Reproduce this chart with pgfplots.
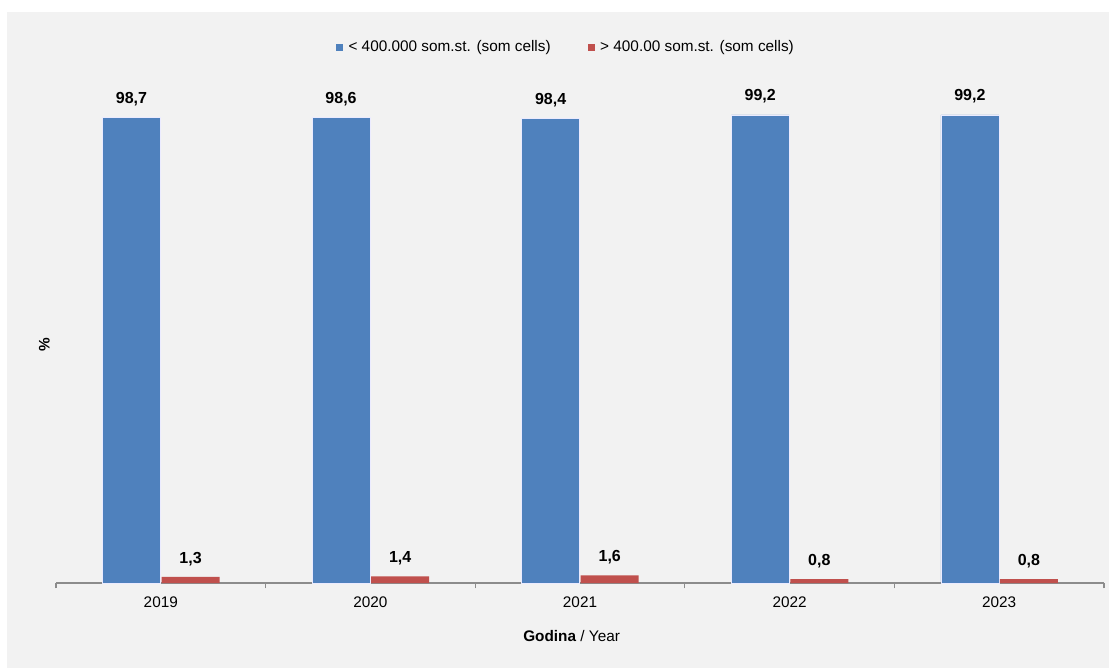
\documentclass[border=0pt]{standalone}
\usepackage{fontspec}
\setmainfont{Liberation Sans}
\usepackage{pgfplots}
\pgfplotsset{compat=1.18}
\definecolor{barblue}{HTML}{4F81BD}
\definecolor{barred}{HTML}{C0504D}
\definecolor{panel}{HTML}{F2F2F2}
\definecolor{axgray}{HTML}{8C8C8C}
\begin{document}
\begin{tikzpicture}[x=1pt,y=1pt]
\useasboundingbox (0,0) rectangle (831.75,501);
\fill[white] (0,0) rectangle (831.75,501);
\fill[panel] (5.25,0) rectangle (831.75,492);
\begin{axis}[
  at={(42pt,63.75pt)}, anchor=south west,
  scale only axis, width=786pt, height=371.7pt,
  xmin=-0.5, xmax=4.5, ymin=0, ymax=105,
  ybar, bar width=43.5pt,
  axis y line=none, axis x line=bottom,
  x axis line style={-, draw=axgray, line width=0.8pt},
  xtick={0,1,2,3,4},
  xticklabels={2019,2020,2021,2022,2023},
  major x tick style={draw=none},
  extra x ticks={-0.5,0.5,1.5,2.5,3.5,4.5},
  extra x tick labels={},
  extra x tick style={tick align=outside, major tick length=4pt, major x tick style={draw=axgray, line width=0.8pt}},
  xticklabel style={font=\fontsize{11.5}{13}\selectfont, yshift=-5pt},
  clip=false,
  xlabel={\textbf{Godina} / Year},
  xlabel style={at={(axis description cs:0.492,0)}, anchor=center, yshift=-39.75pt, font=\fontsize{11.5}{13}\selectfont},
  nodes near coords={\pgfmathprintnumber[fixed,fixed zerofill,precision=1,use comma,assume math mode=true]{\pgfplotspointmeta}},
  every node near coord/.append style={font=\bfseries\fontsize{12}{14}\selectfont, yshift=5pt, text=black},
  legend style={at={(0.487,1.081)}, anchor=center, draw=none, fill=none,
    font=\fontsize{11.5}{13}\selectfont,
    /tikz/every odd column/.append style={column sep=2pt},
    /tikz/every even column/.append style={column sep=26pt}},
  legend columns=2,
  legend image code/.code={\fill[#1,draw=none] (0pt,-2.6pt) rectangle (5.2pt,2.6pt);},
]
\addplot[fill=barblue, draw=blue!8, bar shift=-22pt] coordinates {(0,98.7) (1,98.6) (2,98.4) (3,99.2) (4,99.2)};
\addplot[fill=barred, draw=none, bar shift=22.3pt] coordinates {(0,1.3) (1,1.4) (2,1.6) (3,0.8) (4,0.8)};
\legend{< 400.000 som.st. (som cells), > 400.00 som.st. (som cells)}
\node[rotate=90, anchor=center, font=\bfseries\fontsize{11.5}{13}\selectfont] at (rel axis cs:-0.011,0.48) {\%};
\end{axis}
\end{tikzpicture}
\end{document}
